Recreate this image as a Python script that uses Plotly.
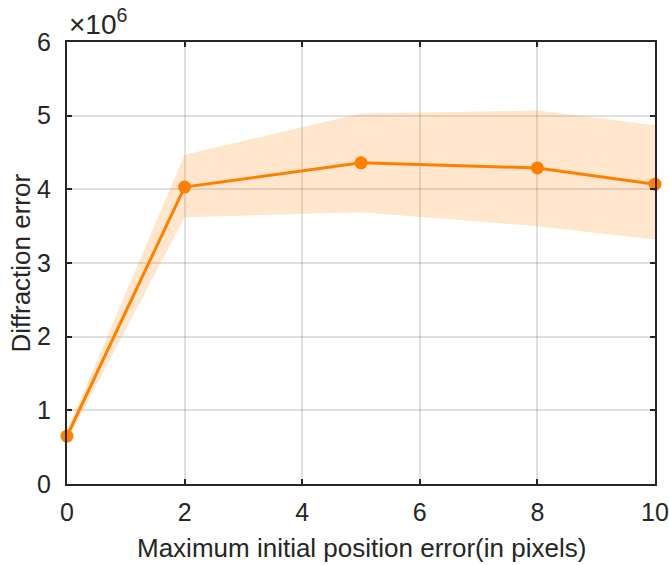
import plotly.graph_objects as go

x_vals = [0, 2, 5, 8, 10]
mean_err = [0.65e6, 4.03e6, 4.36e6, 4.29e6, 4.07e6]
upper_err = [0.72e6, 4.47e6, 5.03e6, 5.07e6, 4.87e6]
lower_err = [0.58e6, 3.62e6, 3.69e6, 3.50e6, 3.32e6]
x_ticks = [0, 2, 4, 6, 8, 10]
y_ticks = [0, 1e6, 2e6, 3e6, 4e6, 5e6, 6e6]
y_ticktext = ["0", "1", "2", "3", "4", "5", "6"]
x_title = "Maximum initial position error(in pixels)"
y_title = "Diffraction error"

orange = "#FF8000"
axis_col = "#262626"
font_fam = "Liberation Sans, Arial, sans-serif"

fig = go.Figure()
fig.add_trace(go.Scatter(
    x=x_vals + x_vals[::-1],
    y=upper_err + lower_err[::-1],
    fill="toself", fillcolor="rgba(255,128,0,0.2)",
    line=dict(width=0), mode="lines", hoverinfo="skip", showlegend=False))
fig.add_trace(go.Scatter(
    x=x_vals, y=mean_err, mode="lines+markers",
    line=dict(color=orange, width=3),
    marker=dict(color=orange, size=13),
    showlegend=False, cliponaxis=False))

fig.update_layout(
    width=669, height=565,
    margin=dict(l=67, r=14, t=42, b=81),
    plot_bgcolor="white", paper_bgcolor="white",
    font=dict(family=font_fam, color=axis_col),
)
common = dict(ticks="inside", ticklen=5, tickwidth=1.5, tickcolor=axis_col,
              showline=True, linecolor=axis_col, linewidth=2, mirror="ticks",
              showgrid=True, gridcolor="rgba(0,0,0,0.12)", gridwidth=2, zeroline=False,
              tickfont=dict(size=25, color=axis_col), automargin=False)
fig.update_xaxes(range=[0, 10], tickvals=x_ticks, ticklabelstandoff=5, **common)
fig.update_yaxes(range=[0, 6e6], tickvals=y_ticks, ticktext=y_ticktext, ticklabelstandoff=9, **common)

fig.add_annotation(
    x=0.5, y=-0.145, xref="paper", yref="paper", xanchor="center", yanchor="middle",
    text=x_title, showarrow=False, font=dict(size=26, color=axis_col, family=font_fam))
fig.add_annotation(
    x=-0.079, y=0.5, xref="paper", yref="paper", xanchor="center", yanchor="middle",
    text=y_title, textangle=-90, showarrow=False, font=dict(size=26, color=axis_col, family=font_fam))
fig.add_annotation(
    x=0, y=1, xref="paper", yref="paper", xanchor="left", yanchor="bottom",
    text="×10<sup>6</sup>", showarrow=False, xshift=0, yshift=0,
    font=dict(size=28, color=axis_col, family=font_fam))

fig.write_html("out.html", config={"displayModeBar": False},
               post_script="document.body.style.margin='0';")
